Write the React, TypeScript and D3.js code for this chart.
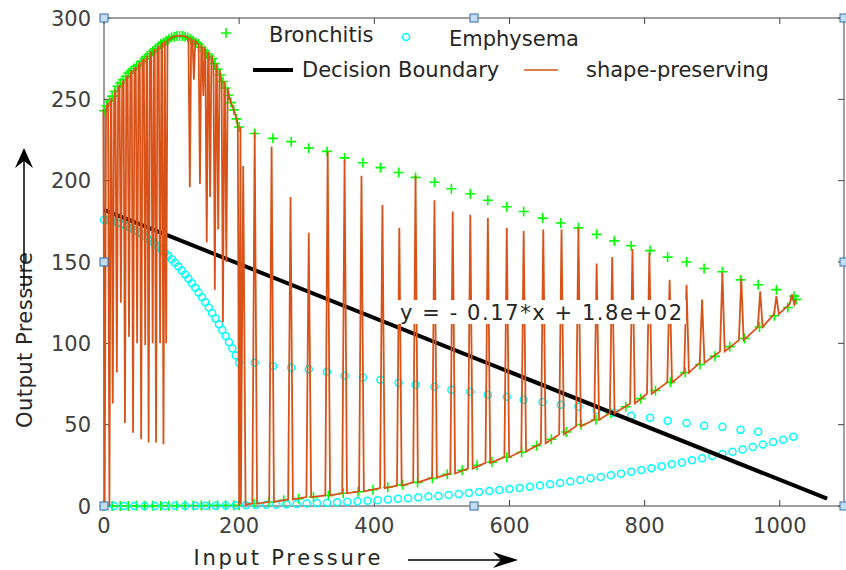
import * as d3 from 'd3';

// ---- data ----

// Bronchitis: dense upper arc (x = 0..200, step 4)
const bronArcY = [243, 246, 249, 252, 255, 258, 260, 262, 264, 266, 267.5, 269, 270.5, 271, 273.5, 275, 276.5, 278, 279.5, 281,
  282.5, 284, 285, 286, 287, 288, 288.5, 289, 289, 289, 288.5, 288, 287, 286, 285, 284, 282, 280, 278, 276.5,
  275, 272, 268.5, 265, 261, 257, 252.5, 248, 243.5, 238, 233];
// Bronchitis: flat lower run (x = 0..192, step 12)
const bronFlatY = [0, 0, 0, 0, 0.1, 0.1, 0.1, 0.2, 0.2, 0.2, 0.3, 0.3, 0.3, 0.4, 0.4, 0.5, 0.5];
// Bronchitis: rising lower branch
const bronRiseX = [200, 222, 244, 266, 288, 310, 332, 354, 376, 398, 420, 442, 464, 486, 508, 530, 552, 574, 596, 618,
  640, 662, 684, 706, 728, 750, 772, 794, 816, 838, 860, 882, 904, 926, 948, 970, 992, 1012, 1024];
const bronRiseY = [0.5, 1.5, 2.5, 3.5, 4.5, 5.5, 6.5, 7.8, 8.8, 10, 11.5, 13, 14.5, 17, 19.5, 22, 25, 27, 30, 33,
  37, 41, 45.5, 50, 53, 57, 61, 66, 71, 76, 82, 87, 92, 98, 103, 110, 117, 122, 127];
// sparse upper branches (shared x)
const sparseX = [223, 250, 277, 303, 330, 356, 383, 409, 436, 461, 489, 514, 542, 568, 596, 621, 649, 676, 702, 729,
  755, 780, 808, 834, 862, 888, 915, 942, 968, 995, 1021];
const bronSparseY = [229, 226, 224, 220, 218, 214, 211, 208, 205, 202, 199, 195, 192, 188, 184, 181, 177, 174, 171, 167,
  163, 160, 157, 153, 150, 146, 144, 139, 136, 133, 129];

// Emphysema: dense upper arc (x = 0..200, step 5)
const emphArcY = [176, 175.8, 175.5, 175, 174.3, 173.5, 172.7, 171.8, 170.8, 169.7, 168.5, 167.2, 165.8, 164.3, 162.8,
  161.2, 159.5, 157.7, 155.8, 153.8, 151.7, 149.5, 147.2, 144.8, 142.3, 139.7, 137, 134.2, 131.3, 128.3, 125.2, 122,
  118.7, 115.3, 111.8, 108.2, 104.5, 100.7, 96.8, 92.5, 88];
const emphSparseY = [88, 86, 85, 84, 82.5, 80, 79, 77.6, 75.8, 74.5, 73.3, 71.5, 70.2, 68.4, 67.2, 65.3, 64, 62.2, 61, 59,
  57.3, 55.5, 54.2, 52.4, 51, 49.3, 48.7, 46.8, 45.6];
// Emphysema: lower branch (x = 0..1020, step 15)
const emphLowY = [0, 0, 0, 0, 0, 0, 0, 0.1, 0.1, 0.1, 0.2, 0.2, 0.3, 0.4,
  0.5, 0.6, 0.7, 0.8, 1.0, 1.3, 1.6, 1.8, 2.0, 2.3,
  2.6, 2.9, 3.2, 3.6, 4.0, 4.4, 4.8, 5.3, 5.8, 6.2,
  6.8, 7.4, 8.0, 8.6, 9.2, 9.8, 10.4, 11.1, 11.8, 12.6,
  13.4, 14.2, 15.1, 16.0, 17.0, 17.9, 18.9, 19.9, 21.0, 22.1,
  23.2, 24.4, 25.6, 26.8, 28.1, 29.4, 30.7, 32.0, 33.4, 34.8,
  36.3, 37.8, 39.3, 40.8, 42.5];

// decision boundary end points
const boundary: [number, number][] = [[0, 182], [1070, 4.5]];

// shape-preserving fit: downward spikes off the arc [x, arcY, lowY]
const fitDownSpikes = [
  [1, 244, 0], [8, 248, 0], [13, 251, 63], [19, 256, 82], [25, 259, 125], [31, 262, 51], [37, 265, 104],
  [43, 268, 45], [49, 270, 100], [55, 273, 41], [61, 275, 99], [66, 277, 39], [72, 279.5, 100], [77, 281, 39],
  [83, 283, 100], [88, 285, 38], [92, 286, 100],
  [127, 287, 196], [133, 286, 262], [142, 283.5, 198], [147, 282, 252], [152, 279, 162], [157, 277, 190],
  [164, 272, 133], [169, 268, 170], [176, 261, 113], [181, 257, 150], [200, 233, 0]];
// fit vertices that follow the arc between spikes
const fitArc = [[100, 288], [108, 289], [116, 289], [122, 288.5], [186, 250], [192, 243.5], [197, 237]];
// upward spikes off the lower branch [x, baseY, topY]
const fitUpSpikes = [
  [206, 1, 209], [223, 1.5, 230], [248, 2.5, 221], [276, 4, 190], [303, 5.5, 168], [331, 6.5, 218], [356, 7.8, 213],
  [381, 9, 203], [412, 11, 185], [437, 12.5, 171], [461, 14.5, 203], [489, 17.5, 188], [516, 20, 181], [542, 23, 179],
  [568, 26.5, 177], [596, 30, 171], [621, 33.5, 169], [650, 38.5, 170], [677, 44, 170], [702, 49, 171], [729, 53, 149],
  [752, 57, 153], [782, 63, 158], [807, 69, 156], [837, 76, 139], [862, 82, 136], [885, 88, 127], [915, 95, 143.5],
  [943, 102, 140], [971, 110, 132], [995, 118, 129], [1018, 124, 130]];
const fitEnd = [[1024, 127]];

const xTicks = [0, 200, 400, 600, 800, 1000];
const yTicks = [0, 50, 100, 150, 200, 250, 300];

const font = "'DejaVu Sans', sans-serif";
const textColor = '#262626';
const green = '#00ff00';
const cyan = '#00ffff';
const orange = '#D95319';

export default function App() {
  const width = 846;
  const height = 570;

  const x = d3.scaleLinear().domain([0, 1095]).range([104, 844]);
  const y = d3.scaleLinear().domain([0, 300]).range([506, 18]);

  // marker point lists
  const bronPts: [number, number][] = [
    ...bronArcY.map((v, i) => [i * 4, v] as [number, number]),
    ...bronFlatY.map((v, i) => [i * 12, v] as [number, number]),
    ...bronRiseX.map((v, i) => [v, bronRiseY[i]] as [number, number]),
    ...bronSparseY.map((v, i) => [sparseX[i], v] as [number, number]),
  ];
  const emphPts: [number, number][] = [
    ...emphArcY.map((v, i) => [i * 5, v] as [number, number]),
    ...emphSparseY.map((v, i) => [sparseX[i], v] as [number, number]),
    ...emphLowY.map((v, i) => [i * 15, v] as [number, number]),
  ];

  // fit polyline vertices
  const fitPts: [number, number][] = [];
  fitDownSpikes.forEach(([sx, top, low]) => {
    fitPts.push([sx - 2, top], [sx, low], [sx + 2, top]);
  });
  fitArc.forEach(([ax, ay]) => fitPts.push([ax, ay]));
  fitUpSpikes.forEach(([sx, base, top]) => {
    fitPts.push([sx - 3.5, base], [sx, top], [sx + 3.5, base]);
  });
  fitEnd.forEach(([ex, ey]) => fitPts.push([ex, ey]));
  fitPts.sort((a, b) => a[0] - b[0]);

  const line = d3.line<[number, number]>()
    .x((d) => x(d[0]))
    .y((d) => y(d[1]));

  const left = x.range()[0];
  const right = x.range()[1];
  const top = y.range()[1];
  const bottom = y.range()[0];
  const midX = (left + right) / 2;
  const midY = (top + bottom) / 2;
  const handles = [
    [left, top], [midX, top], [right, top],
    [left, midY], [right, midY],
    [left, bottom], [midX, bottom], [right, bottom],
  ];

  const plus = (px: number, py: number, s = 5) => `M${px - s},${py}H${px + s}M${px},${py - s}V${py + s}`;

  return (
    <svg width={width} height={height} style={{ position: 'absolute', left: 0, top: 0, background: '#fff' }}
      fontFamily={font}>
      <rect width={width} height={height} fill="#fff" />

      {/* axes box */}
      <rect x={left} y={top} width={right - left} height={bottom - top} fill="none" stroke="#404040" strokeWidth={1} />

      {/* ticks */}
      {xTicks.map((t) => (
        <g key={'xt' + t}>
          <line x1={x(t)} x2={x(t)} y1={bottom} y2={bottom - 6} stroke="#404040" />
          <line x1={x(t)} x2={x(t)} y1={top} y2={top + 6} stroke="#404040" />
          <text x={x(t)} y={533} textAnchor="middle" fontSize={21} fill="#404040">{t}</text>
        </g>
      ))}
      {yTicks.map((t) => (
        <g key={'yt' + t}>
          <line x1={left} x2={left + 6} y1={y(t)} y2={y(t)} stroke="#404040" />
          <line x1={right} x2={right - 6} y1={y(t)} y2={y(t)} stroke="#404040" />
          <text x={91} y={y(t)} dy="0.36em" textAnchor="end" fontSize={21} fill="#404040">{t}</text>
        </g>
      ))}

      {/* Bronchitis */}
      <path d={bronPts.map(([a, b]) => plus(x(a), y(b))).join('')} stroke={green} strokeWidth={1.6} fill="none" />

      {/* Emphysema */}
      {emphPts.map(([a, b], i) => (
        <circle key={'e' + i} cx={x(a)} cy={y(b)} r={3.5} fill="none" stroke={cyan} strokeWidth={1.5} />
      ))}

      {/* decision boundary */}
      <path d={line(boundary) ?? ''} stroke="#000" strokeWidth={4} fill="none" />

      {/* shape-preserving fit */}
      <path d={line(fitPts) ?? ''} stroke={orange} strokeWidth={1.8} fill="none" strokeLinejoin="miter" />

      {/* equation label */}
      <rect x={396} y={300} width={290} height={24} fill="#fff" />
      <text x={400} y={320} fontSize={21} fill={textColor} textLength={282} lengthAdjust="spacing">
        y = - 0.17*x + 1.8e+02
      </text>

      {/* legend */}
      <path d={plus(226, 33)} stroke={green} strokeWidth={1.6} fill="none" />
      <text x={269} y={42} fontSize={21} fill={textColor}>Bronchitis</text>
      <circle cx={406} cy={37} r={3.5} fill="none" stroke={cyan} strokeWidth={1.5} />
      <text x={449} y={46} fontSize={21} fill={textColor}>Emphysema</text>
      <line x1={253} x2={293} y1={70} y2={70} stroke="#000" strokeWidth={4} />
      <text x={302} y={77} fontSize={21} fill={textColor}>Decision Boundary</text>
      <line x1={524} x2={558} y1={70} y2={70} stroke={orange} strokeWidth={1.5} />
      <text x={586} y={77} fontSize={21} fill={textColor}>shape-preserving</text>

      {/* selection handles */}
      {handles.map(([hx, hy], i) => (
        <rect key={'h' + i} x={hx - 4} y={hy - 4} width={8} height={8} fill="#c4dcf2" stroke="#2f6fae" strokeWidth={1} />
      ))}

      {/* axis labels with arrows */}
      <text x={287} y={565} textAnchor="middle" fontSize={21} fill={textColor} textLength={187} lengthAdjust="spacing">
        Input Pressure
      </text>
      <line x1={408} x2={502} y1={560} y2={560} stroke="#000" strokeWidth={1.5} />
      <path d="M518,560L493,552L501,560L493,568Z" fill="#000" />

      <text transform="translate(32,340) rotate(-90)" textAnchor="middle" fontSize={21} fill={textColor}
        textLength={176} lengthAdjust="spacing">
        Output Pressure
      </text>
      <line x1={24} x2={24} y1={290} y2={161} stroke="#000" strokeWidth={1.5} />
      <path d="M24,148L15,168L24,161L33,168Z" fill="#000" />
    </svg>
  );
}
